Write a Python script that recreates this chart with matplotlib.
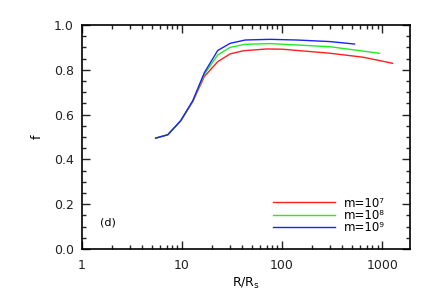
import numpy as np
import matplotlib
matplotlib.use('Agg')
import matplotlib.pyplot as plt
from matplotlib.ticker import LogLocator, MultipleLocator, FixedLocator

# R/Rs values and f for three masses
r_m7 = [5.45, 7.2, 9.7, 12.8, 16.7, 22.7, 30.2, 41, 70, 100, 300, 650, 1270]
f_m7 = [0.495, 0.51, 0.572, 0.658, 0.77, 0.836, 0.871, 0.885, 0.893, 0.892, 0.874, 0.856, 0.829]

r_m8 = [5.45, 7.2, 9.7, 12.8, 16.7, 22.7, 30.2, 42.7, 76, 300, 940]
f_m8 = [0.495, 0.51, 0.572, 0.66, 0.78, 0.866, 0.900, 0.914, 0.917, 0.903, 0.874]

r_m9 = [5.45, 7.2, 9.7, 12.8, 16.7, 22.7, 30.2, 42.7, 76, 140, 300, 530]
f_m9 = [0.495, 0.51, 0.573, 0.662, 0.787, 0.886, 0.918, 0.933, 0.936, 0.933, 0.926, 0.915]

labels = ['m=10⁷', 'm=10⁸', 'm=10⁹']
colors = ['#ff2020', '#20ee20', '#2020ff']

plt.rcParams['font.family'] = 'DejaVu Sans'
plt.rcParams['mathtext.fontset'] = 'dejavusans'

fig = plt.figure(figsize=(4.36, 3.0), dpi=100)
ax = fig.add_axes([82/436, 1 - 249/300, 328/436, 224/300])

for r, f, c, lab in zip([r_m7, r_m8, r_m9], [f_m7, f_m8, f_m9], colors, labels):
    ax.plot(r, f, color=c, lw=1.0, label=lab)

ax.set_xscale('log')
ax.set_xlim(1, 1900)
ax.set_ylim(0, 1.0)

ax.xaxis.set_major_locator(FixedLocator([1, 10, 100, 1000]))
ax.xaxis.set_minor_locator(LogLocator(base=10, subs=np.arange(2, 10), numticks=20))
ax.set_xticklabels(['1', '10', '100', '1000'])
ax.yaxis.set_major_locator(MultipleLocator(0.2))
ax.yaxis.set_minor_locator(MultipleLocator(0.05))
ax.yaxis.set_major_formatter(matplotlib.ticker.FormatStrFormatter('%.1f'))

ax.tick_params(which='both', direction='in', top=True, right=True, labelsize=9, colors='#222222')
ax.tick_params(which='major', length=6, width=1)
ax.tick_params(which='minor', length=3, width=1)
ax.tick_params(axis='x', pad=7)
ax.tick_params(axis='y', pad=6)
for s in ax.spines.values():
    s.set_linewidth(1.2)

ax.set_xlabel(r'R/R$_\mathrm{s}$', fontsize=9, labelpad=3)
ax.set_ylabel('f', fontsize=9, labelpad=7)

ax.text(0.055, 0.107, '(d)', transform=ax.transAxes, fontsize=8)

ax.legend(loc='lower left', bbox_to_anchor=(0.582, 0.065), frameon=False, fontsize=8.5,
          handlelength=5.3, labelspacing=-0.05, handletextpad=0.7,
          borderpad=0, borderaxespad=0)

fig.savefig('out.png', dpi=100)
